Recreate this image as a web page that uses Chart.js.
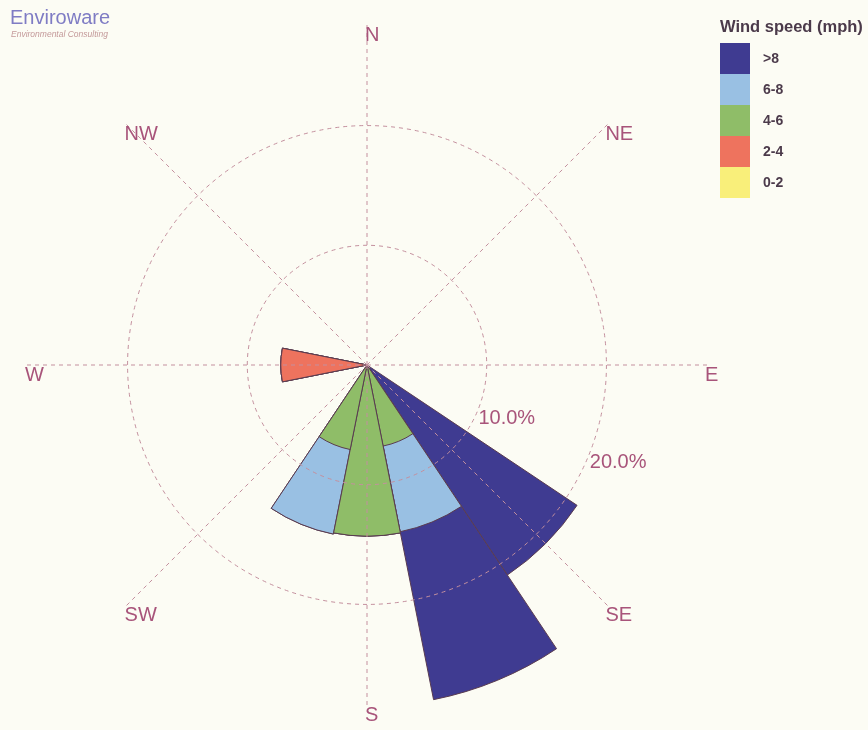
<!DOCTYPE html>
<html>
<head>
<meta charset="utf-8">
<title>Wind rose</title>
<script src="https://cdn.jsdelivr.net/npm/chart.js@4.4.1/dist/chart.umd.min.js"></script>
<style>
  html, body { margin: 0; padding: 0; background: #fcfcf4; }
  #wrap { position: relative; width: 868px; height: 730px; }
</style>
</head>
<body>
<div id="wrap"><canvas id="rose"></canvas></div>
<script>
// 16 direction sectors, clockwise from north
const directions = ['N', 'NNE', 'NE', 'ENE', 'E', 'ESE', 'SE', 'SSE',
                    'S', 'SSW', 'SW', 'WSW', 'W', 'WNW', 'NW', 'NNW'];

// Wind speed classes (mph), innermost first
const speedBins = ['0-2', '2-4', '4-6', '6-8', '>8'];

// Frequency (%) of each speed class per direction
const freq0to2   = [0, 0, 0, 0, 0, 0, 0,    0,    0,    0,   0, 0, 0,   0, 0, 0];
const freq2to4   = [0, 0, 0, 0, 0, 0, 0,    0,    0,    0,   0, 0, 7.2, 0, 0, 0];
const freq4to6   = [0, 0, 0, 0, 0, 0, 0,    6.9,  14.3, 7.2, 0, 0, 0,   0, 0, 0];
const freq6to8   = [0, 0, 0, 0, 0, 0, 0,    7.3,  0,    7.2, 0, 0, 0,   0, 0, 0];
const freqAbove8 = [0, 0, 0, 0, 0, 0, 21.1, 14.3, 0,    0,   0, 0, 0,   0, 0, 0];

// Radial axis
const radialMax = 28.4;
const radialTicks = [10, 20];
const compassPoints = ['N', 'NE', 'E', 'SE', 'S', 'SW', 'W', 'NW'];

const binSeries = [freq0to2, freq2to4, freq4to6, freq6to8, freqAbove8];
const binColors = ['#f9ef7a', '#ee735e', '#8fbd68', '#99c0e3', '#3f3b91'];

const FONT = "'Liberation Sans', Arial, Helvetica, sans-serif";
const GRID_COLOR = '#c4909e';
const LABEL_COLOR = '#a8547a';

// Stack the classes: each dataset reaches the cumulative frequency,
// the first (innermost) dataset is painted last so it sits on top.
let running = directions.map(() => 0);
const datasets = binSeries.map((series, k) => {
  running = running.map((v, i) => v + series[i]);
  return {
    label: speedBins[k],
    data: running.slice(),
    backgroundColor: binColors[k],
    borderColor: '#5a3c50',
    borderWidth: 1
  };
});

const backgroundPlugin = {
  id: 'paper',
  beforeDraw(chart) {
    const ctx = chart.ctx;
    ctx.save();
    ctx.fillStyle = '#fcfcf4';
    ctx.fillRect(0, 0, chart.width, chart.height);
    ctx.restore();
  }
};

// Dashed compass axes with their names, and the percentage labels of the rings
const compassPlugin = {
  id: 'compass',
  afterDatasetsDraw(chart) {
    const scale = chart.scales.r;
    const ctx = chart.ctx;
    const cx = scale.xCenter, cy = scale.yCenter;
    const R = scale.getDistanceFromCenterForValue(scale.max);
    ctx.save();
    ctx.lineWidth = 1;
    ctx.strokeStyle = GRID_COLOR;
    ctx.setLineDash([4, 4]);
    ctx.font = '20px ' + FONT;
    ctx.fillStyle = LABEL_COLOR;
    ctx.textAlign = 'left';
    ctx.textBaseline = 'top';
    compassPoints.forEach((name, i) => {
      const a = (i * 45 - 90) * Math.PI / 180;
      const x = cx + R * Math.cos(a);
      const y = cy + R * Math.sin(a);
      ctx.beginPath();
      ctx.moveTo(cx, cy);
      ctx.lineTo(x, y);
      ctx.stroke();
      ctx.fillText(name, x - 2, y);
    });
    const la = (111.5 - 90) * Math.PI / 180;
    radialTicks.forEach(v => {
      const d = scale.getDistanceFromCenterForValue(v);
      ctx.fillText(v.toFixed(1) + '%', cx + d * Math.cos(la), cy + d * Math.sin(la));
    });
    ctx.restore();
  }
};

// Speed-class key and the company mark
const keyPlugin = {
  id: 'key',
  afterDraw(chart) {
    const ctx = chart.ctx;
    ctx.save();
    ctx.textAlign = 'left';
    ctx.textBaseline = 'alphabetic';
    ctx.fillStyle = '#4b3a4a';
    ctx.font = 'bold 16.5px ' + FONT;
    ctx.fillText('Wind speed (mph)', 720, 32);
    ctx.font = 'bold 14px ' + FONT;
    ctx.textBaseline = 'middle';
    for (let k = speedBins.length - 1, row = 0; k >= 0; k--, row++) {
      const top = 43 + row * 31;
      ctx.fillStyle = binColors[k];
      ctx.fillRect(720, top, 30, 31);
      ctx.fillStyle = '#4b3a4a';
      ctx.fillText(speedBins[k], 763, top + 16);
    }
    ctx.textBaseline = 'alphabetic';
    ctx.fillStyle = '#7f7cc4';
    ctx.font = '20px ' + FONT;
    ctx.fillText('Enviroware', 10, 24);
    ctx.fillStyle = '#c49a9a';
    ctx.font = 'italic 8.5px ' + FONT;
    ctx.fillText('Environmental Consulting', 11, 37);
    ctx.restore();
  }
};

new Chart(document.getElementById('rose'), {
  type: 'polarArea',
  data: { labels: directions, datasets: datasets },
  options: {
    responsive: true,
    maintainAspectRatio: false,
    animation: false,
    layout: { padding: { left: 27, right: 161, top: 25, bottom: 25 } },
    plugins: {
      legend: { display: false },
      tooltip: { enabled: false }
    },
    scales: {
      r: {
        min: 0,
        max: radialMax,
        bounds: 'data',
        startAngle: -11.25,
        ticks: { display: false, stepSize: 10, includeBounds: false },
        grid: {
          circular: true,
          lineWidth: 1,
          z: 1,
          color: (c) => radialTicks.includes(c.tick && c.tick.value) ? GRID_COLOR : 'rgba(0,0,0,0)'
        },
        border: { dash: [4, 4] },
        angleLines: { display: false },
        pointLabels: { display: false }
      }
    }
  },
  plugins: [backgroundPlugin, compassPlugin, keyPlugin]
});
</script>
</body>
</html>
